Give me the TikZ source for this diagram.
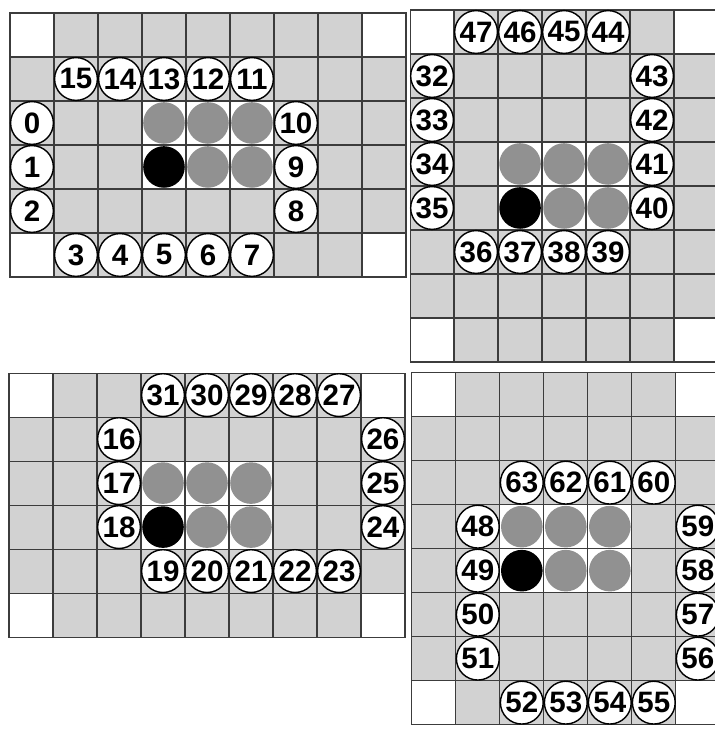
\documentclass[tikz,border=0pt]{standalone}
\usepackage{fontspec}
\usepackage{tikz}
\newfontfamily\numfamily{Liberation Sans}
\definecolor{cellgray}{RGB}{210,210,210}
\definecolor{stonegray}{RGB}{145,145,145}
\definecolor{linegray}{RGB}{60,60,60}

\begin{document}
\begin{tikzpicture}[
    x=1.1cm, y=-1.1cm,
    cell/.style={draw=linegray, line width=0.8pt, fill=cellgray},
    free/.style={draw=linegray, line width=0.8pt, fill=white},
    stone/.style={circle, fill=stonegray, minimum size=1.04cm, inner sep=0pt},
    bstone/.style={stone, fill=black},
    num/.style={circle, draw=black, line width=1pt, fill=white,
        minimum size=1.07cm, inner sep=0pt,
        font=\numfamily\bfseries\fontsize{21}{21}\selectfont}
]
\useasboundingbox (0,0) rectangle (16.25,16.66);
\clip (0,0) rectangle (16.25,16.66);

% board 1 (top left)
\begin{scope}[shift={(0.227,0.295)}]
  \foreach \c in {0,...,8} \foreach \r in {0,...,5}
    \draw[cell] (\c,\r) rectangle ++(1,1);
  \foreach \c/\r in {0/0,8/0,0/5,8/5,3/2,4/2,5/2,3/3,4/3,5/3}
    \draw[free] (\c,\r) rectangle ++(1,1);
  \foreach \c/\r in {3/2,4/2,5/2,4/3,5/3}
    \node[stone] (a\c\r) at (\c+0.5,\r+0.5) {};
  \node[bstone] (a33) at (3.5,3.5) {};
  \foreach \c/\r/\n in {0/2/0,0/3/1,0/4/2,1/5/3,2/5/4,3/5/5,4/5/6,5/5/7,
      6/4/8,6/3/9,6/2/10,5/1/11,4/1/12,3/1/13,2/1/14,1/1/15}
    \node[num] (n\n) at (\c+0.5,\r+0.5) {\n};
\end{scope}

% board 2 (top right)
\begin{scope}[shift={(9.32,0.227)}]
  \foreach \c in {0,...,6} \foreach \r in {0,...,7}
    \draw[cell] (\c,\r) rectangle ++(1,1);
  \foreach \c/\r in {0/0,6/0,0/7,6/7,2/3,3/3,4/3,2/4,3/4,4/4}
    \draw[free] (\c,\r) rectangle ++(1,1);
  \foreach \c/\r in {2/3,3/3,4/3,3/4,4/4}
    \node[stone] (b\c\r) at (\c+0.5,\r+0.5) {};
  \node[bstone] (b24) at (2.5,4.5) {};
  \foreach \c/\r/\n in {0/1/32,0/2/33,0/3/34,0/4/35,1/5/36,2/5/37,3/5/38,4/5/39,
      5/4/40,5/3/41,5/2/42,5/1/43,4/0/44,3/0/45,2/0/46,1/0/47}
    \node[num] (n\n) at (\c+0.5,\r+0.5) {\n};
\end{scope}

% board 3 (bottom left)
\begin{scope}[shift={(0.205,8.48)}]
  \foreach \c in {0,...,8} \foreach \r in {0,...,5}
    \draw[cell] (\c,\r) rectangle ++(1,1);
  \foreach \c/\r in {0/0,8/0,0/5,8/5,3/2,4/2,5/2,3/3,4/3,5/3}
    \draw[free] (\c,\r) rectangle ++(1,1);
  \foreach \c/\r in {3/2,4/2,5/2,4/3,5/3}
    \node[stone] (c\c\r) at (\c+0.5,\r+0.5) {};
  \node[bstone] (c33) at (3.5,3.5) {};
  \foreach \c/\r/\n in {2/1/16,2/2/17,2/3/18,3/4/19,4/4/20,5/4/21,6/4/22,7/4/23,
      8/3/24,8/2/25,8/1/26,7/0/27,6/0/28,5/0/29,4/0/30,3/0/31}
    \node[num] (n\n) at (\c+0.5,\r+0.5) {\n};
\end{scope}

% board 4 (bottom right)
\begin{scope}[shift={(9.36,8.47)}]
  \foreach \c in {0,...,6} \foreach \r in {0,...,7}
    \draw[cell] (\c,\r) rectangle ++(1,1);
  \foreach \c/\r in {0/0,6/0,0/7,6/7,2/3,3/3,4/3,2/4,3/4,4/4}
    \draw[free] (\c,\r) rectangle ++(1,1);
  \foreach \c/\r in {2/3,3/3,4/3,3/4,4/4}
    \node[stone] (d\c\r) at (\c+0.5,\r+0.5) {};
  \node[bstone] (d24) at (2.5,4.5) {};
  \foreach \c/\r/\n in {1/3/48,1/4/49,1/5/50,1/6/51,2/7/52,3/7/53,4/7/54,5/7/55,
      6/6/56,6/5/57,6/4/58,6/3/59,5/2/60,4/2/61,3/2/62,2/2/63}
    \node[num] (n\n) at (\c+0.5,\r+0.5) {\n};
\end{scope}
\end{tikzpicture}
\end{document}
